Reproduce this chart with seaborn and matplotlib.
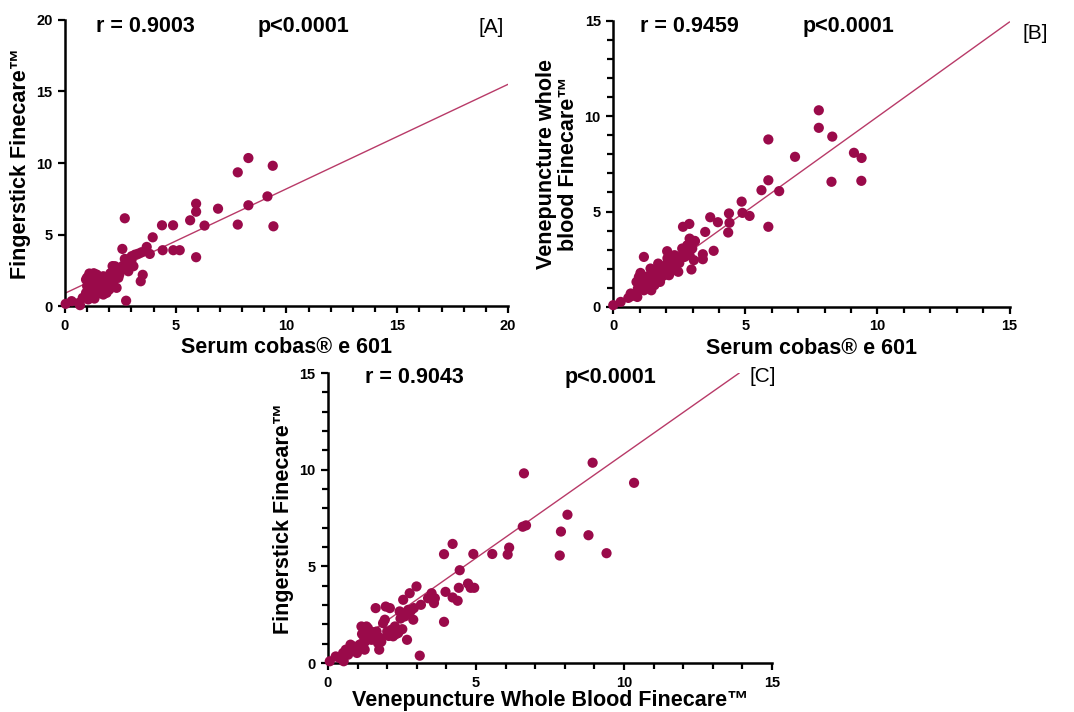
import matplotlib
matplotlib.use('Agg')
import matplotlib.pyplot as plt
import numpy as np
import pandas as pd
import seaborn as sns
from matplotlib.ticker import MultipleLocator

# [A] serum cobas e 601 vs fingerstick Finecare
a_serum = [8.28, 9.38, 7.80, 9.14, 8.28, 5.92, 5.92, 6.91, 5.65, 6.30, 7.80, 9.41, 4.38, 4.88,
           3.96, 3.69, 3.83, 4.41, 4.89, 5.18, 5.92, 2.70, 2.59, 3.51, 3.42, 2.76,
           0.03, 0.30, 0.63, 0.68, 0.80, 0.95, 1.00, 0.95, 1.10, 1.20, 1.13, 1.28, 1.33, 1.43,
           1.50, 1.66, 1.73, 1.85, 1.96, 2.00, 2.10, 2.18, 2.26, 2.33, 2.41, 2.48, 2.56, 2.71,
           2.79, 2.86, 2.94, 3.01, 3.09, 3.16, 3.31, 3.46, 1.58, 1.43, 1.73, 1.88, 1.13, 1.05,
           1.05, 1.15, 1.25, 1.35, 1.45, 1.55, 1.60, 1.70, 1.80, 1.90, 2.05, 2.20, 2.30, 2.45,
           2.60, 2.90, 3.00, 1.20, 1.40, 1.00, 1.10, 1.30, 2.15, 2.70]
a_finger = [10.35, 9.81, 9.35, 7.67, 7.05, 7.16, 6.60, 6.81, 6.00, 5.63, 5.70, 5.58, 5.65, 5.65,
            4.81, 4.14, 3.65, 3.91, 3.91, 3.91, 3.42, 6.14, 4.00, 2.19, 1.74, 0.38,
            0.16, 0.35, 0.23, 0.07, 0.58, 0.93, 1.40, 1.86, 2.28, 1.90, 1.50, 1.16, 0.53, 1.63,
            2.09, 1.40, 0.81, 1.74, 2.09, 1.16, 1.51, 2.21, 2.79, 1.28, 1.98, 2.44, 2.67, 2.91,
            3.26, 2.44, 3.02, 3.49, 2.79, 3.60, 3.67, 3.77, 0.93, 2.21, 2.09, 0.93, 0.93, 0.47,
            1.70, 1.30, 1.80, 1.20, 1.90, 1.50, 2.00, 1.60, 1.30, 1.90, 2.30, 1.80, 2.60, 2.20,
            2.80, 2.70, 3.20, 1.00, 0.80, 2.00, 1.60, 2.30, 2.80, 3.30]

# [B] serum cobas e 601 vs venepuncture whole blood Finecare
b_serum = [7.78, 7.78, 8.29, 5.87, 6.88, 9.11, 9.40, 5.87, 8.26, 9.39, 5.61, 6.28, 4.86, 4.89,
           5.16, 4.38, 4.40, 4.35, 5.87, 3.67, 3.96, 3.48, 3.80, 2.64, 2.88, 2.89, 3.09, 3.39,
           3.39, 2.96, 3.05, 1.16, 2.04,
           0.00, 0.28, 0.57, 0.69, 0.82, 0.91, 0.93, 0.88, 0.97, 1.03, 1.07, 1.22, 1.29, 1.44,
           1.39, 1.41, 1.56, 1.64, 1.70, 1.83, 1.89, 1.98, 2.11, 2.14, 2.20, 2.27, 2.32, 2.42,
           2.46, 2.52, 2.61, 2.70, 2.76, 2.80, 2.89, 2.99, 3.08, 0.66, 1.16, 1.48, 1.77, 1.92,
           1.00, 1.10, 1.20, 1.30, 1.50, 1.60, 1.75, 1.85, 2.00, 2.10, 2.25, 2.35, 2.50, 2.65,
           1.35, 1.15, 2.05, 2.40]
b_venous = [10.31, 9.39, 8.93, 8.78, 7.87, 8.08, 7.81, 6.64, 6.56, 6.61, 6.12, 6.07, 5.52, 4.93,
            4.77, 4.90, 4.41, 3.90, 4.20, 4.70, 4.44, 3.93, 2.94, 4.20, 4.35, 3.58, 3.44, 2.76,
            2.50, 1.96, 2.45, 2.62, 2.92,
            0.09, 0.26, 0.47, 0.56, 0.61, 0.52, 0.96, 1.31, 1.57, 1.78, 1.22, 1.40, 1.05, 0.87,
            1.57, 2.01, 1.14, 1.84, 2.27, 1.57, 1.92, 2.19, 1.66, 2.10, 2.45, 1.92, 2.71, 2.27,
            1.84, 2.53, 3.06, 2.62, 2.88, 3.23, 2.71, 3.06, 3.46, 0.70, 0.87, 1.40, 1.31, 1.66,
            1.20, 1.50, 1.00, 1.60, 1.30, 1.50, 1.80, 2.00, 1.90, 2.30, 2.10, 2.40, 2.30, 2.80,
            1.20, 1.35, 2.55, 2.60]

# [C] venepuncture whole blood Finecare vs fingerstick Finecare
c_venous = [8.94, 6.62, 10.34, 8.09, 6.69, 6.58, 7.87, 8.80, 6.12, 6.07, 5.55, 4.91, 4.21, 3.92,
            7.83, 9.41, 4.45, 4.73, 4.94, 4.82, 4.42, 3.97, 4.21, 4.38, 3.92, 3.10,
            0.06, 0.26, 0.39, 0.51, 0.53, 0.60, 0.68, 0.76, 0.85, 0.98, 1.07, 1.13, 1.21, 1.24,
            1.30, 1.39, 1.47, 1.61, 1.64, 1.69, 1.73, 1.78, 1.86, 1.92, 1.95, 2.00, 2.09, 2.14,
            2.20, 2.26, 2.37, 2.42, 2.51, 2.54, 2.59, 2.67, 2.71, 2.76, 2.88, 2.90, 2.99, 3.14,
            3.38, 3.50, 3.58, 3.61,
            1.00, 1.15, 1.35, 1.50, 1.55, 1.80, 2.05, 2.30, 2.45, 2.65, 2.80, 1.25, 0.90]
c_finger = [10.36, 9.81, 9.32, 7.67, 7.12, 7.05, 6.80, 6.61, 5.97, 5.61, 5.64, 5.64, 6.16, 5.63,
            5.56, 5.68, 4.80, 4.11, 3.89, 3.89, 3.89, 3.68, 3.39, 3.22, 2.13, 0.38,
            0.09, 0.34, 0.26, 0.52, 0.09, 0.69, 0.43, 0.95, 0.86, 0.52, 0.95, 1.89, 1.38, 0.69,
            1.89, 1.55, 1.20, 2.84, 1.63, 1.03, 0.69, 1.29, 2.06, 2.24, 2.92, 1.63, 2.84, 1.72,
            1.38, 1.89, 1.55, 2.67, 1.75, 3.27, 2.41, 1.20, 2.75, 3.61, 2.24, 2.84, 3.96, 3.01,
            3.35, 3.61, 3.10, 3.35,
            0.70, 1.50, 1.80, 1.60, 1.35, 1.10, 1.40, 1.50, 2.30, 2.55, 2.70, 1.10, 0.70]

# fitted lines (intercept, slope) and the stats printed on each panel
fit_a = (0.90, 0.73)
fit_b = (0.02, 0.995)
fit_c = (0.05, 1.076)
r_values = ['r = 0.9003', 'r = 0.9459', 'r = 0.9043']
p_value = 'p<0.0001'

dot = '#9a0a4a'
line = '#b83a68'

sns.set_style('ticks')
plt.rcParams['font.family'] = ['Liberation Sans', 'DejaVu Sans']
plt.rcParams['font.weight'] = 'bold'
plt.rcParams['text.color'] = 'black'
plt.rcParams['axes.labelcolor'] = 'black'

fig = plt.figure(figsize=(10.74, 7.12), dpi=100)
ax_a = fig.add_axes([0.0605, 0.570, 0.4125, 0.402])
ax_b = fig.add_axes([0.571, 0.569, 0.369, 0.4017])
ax_c = fig.add_axes([0.3054, 0.0688, 0.4134, 0.4073])


def panel(ax, x, y, fit, lim, yminor, xlabel, ylabel, r_txt, r_pos, p_pos, tag, tag_pos,
          xpad=3):
    df = pd.DataFrame({'x': x, 'y': y})
    ax.axline((0, fit[0]), slope=fit[1], color=line, lw=1.0, zorder=2)
    sns.scatterplot(data=df, x='x', y='y', ax=ax, color=dot, s=54, edgecolor='none',
                    linewidth=0, clip_on=False, zorder=3)
    ax.set_xlim(0, lim[0])
    ax.set_ylim(0, lim[1])
    ax.xaxis.set_major_locator(MultipleLocator(5))
    ax.xaxis.set_minor_locator(MultipleLocator(1))
    ax.yaxis.set_major_locator(MultipleLocator(5))
    if yminor:
        ax.yaxis.set_minor_locator(MultipleLocator(1))
    sns.despine(ax=ax)
    for s in ('left', 'bottom'):
        ax.spines[s].set_linewidth(1.8)
        ax.spines[s].set_color('black')
    ax.tick_params(which='major', length=5, width=1.6, labelsize=10.5, pad=4, colors='black')
    ax.tick_params(which='minor', length=4, width=1.6, colors='black')
    ax.set_xlabel(xlabel, fontsize=15.5, fontweight='bold', labelpad=xpad, color='black')
    ax.set_ylabel(ylabel, fontsize=15.5, fontweight='bold', labelpad=4, linespacing=1.05,
                  color='black')
    ax.text(r_pos[0], r_pos[1], r_txt, fontsize=15.5, fontweight='bold', ha='left', va='center',
            color='black', clip_on=False)
    ax.text(p_pos[0], p_pos[1], p_value, fontsize=15.5, fontweight='bold', ha='left',
            va='center', color='black', clip_on=False)
    ax.text(tag_pos[0], tag_pos[1], tag, fontsize=15, fontweight='normal', ha='left',
            va='center', color='black', clip_on=False)


panel(ax_a, a_serum, a_finger, fit_a, (20, 20), False,
      'Serum cobas® e 601', 'Fingerstick Finecare™',
      r_values[0], (1.4, 19.55), (8.7, 19.55), '[A]', (18.65, 19.5))
panel(ax_b, b_serum, b_venous, fit_b, (15, 15), True,
      'Serum cobas® e 601', 'Venepuncture whole\nblood Finecare™',
      r_values[1], (1.0, 14.7), (7.15, 14.7), '[B]', (15.5, 14.35))
panel(ax_c, c_venous, c_finger, fit_c, (15, 15), True,
      'Venepuncture Whole Blood Finecare™', 'Fingerstick Finecare™',
      r_values[2], (1.25, 14.75), (8.0, 14.75), '[C]', (14.25, 14.8), xpad=0.5)

fig.savefig('out.png', dpi=100)
